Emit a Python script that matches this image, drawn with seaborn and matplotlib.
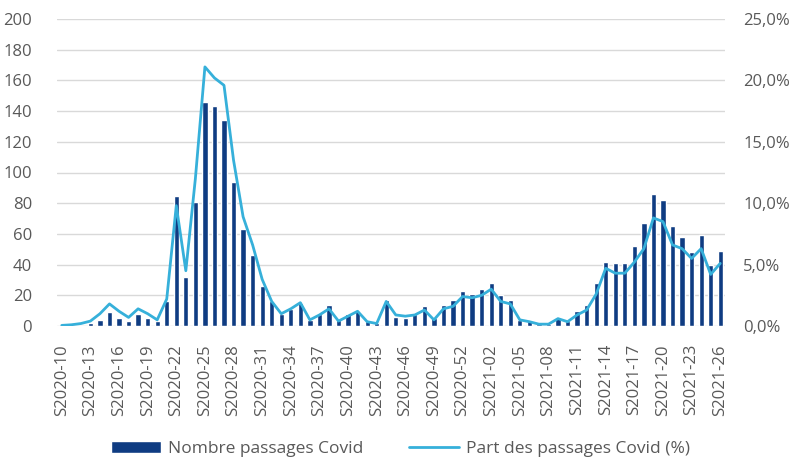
import matplotlib
matplotlib.use("Agg")
import matplotlib.pyplot as plt
import numpy as np
import pandas as pd
import seaborn as sns
from matplotlib.ticker import FuncFormatter

weeks = [f"S2020-{w:02d}" for w in range(10, 54)] + [f"S2021-{w:02d}" for w in range(1, 27)]

nombre = [0, 0, 0, 2, 4, 9, 5, 3, 8, 5,
          3, 16, 85, 32, 81, 146, 143, 134, 94, 63,
          46, 26, 16, 8, 11, 15, 4, 8, 14, 4,
          8, 10, 3, 2, 17, 6, 5, 8, 13, 5,
          14, 17, 23, 21, 24, 28, 20, 17, 4, 3,
          1, 1, 5, 3, 10, 14, 28, 42, 41, 41,
          52, 67, 86, 82, 65, 58, 48, 59, 40, 49]

part = [0.05, 0.1, 0.2, 0.4, 1.0, 1.8, 1.2, 0.7, 1.4, 1.0,
        0.5, 2.2, 9.8, 4.5, 12.0, 21.1, 20.2, 19.6, 13.5, 8.9,
        6.6, 3.8, 2.0, 1.0, 1.4, 1.9, 0.5, 0.9, 1.4, 0.4,
        0.8, 1.2, 0.35, 0.2, 2.0, 0.9, 0.8, 0.9, 1.3, 0.5,
        1.4, 1.6, 2.4, 2.3, 2.5, 3.0, 2.0, 1.8, 0.5, 0.35,
        0.15, 0.15, 0.6, 0.35, 0.9, 1.3, 2.6, 4.7, 4.3, 4.3,
        5.2, 6.3, 8.8, 8.5, 6.6, 6.3, 5.5, 6.3, 4.2, 5.1]

label_bar = "Nombre passages Covid"
label_line = "Part des passages Covid (%)"

sns.set_theme(style="white")
plt.rcParams["font.family"] = ["Open Sans", "DejaVu Sans"]

df = pd.DataFrame({"semaine": weeks, "nombre": nombre, "part": part,
                   "pos": np.arange(len(weeks))})

BAR = "#0f3c82"
LINE = "#36b0da"
TXT = "#595959"
GRID = "#d9d9d9"

fig = plt.figure(figsize=(7.93, 4.63), dpi=100)
ax = fig.add_axes([57 / 793, 1 - 326 / 463, (725 - 57) / 793, (326 - 19) / 463])

sns.barplot(data=df, x="semaine", y="nombre", color=BAR, width=0.55,
            saturation=1, ax=ax, label=label_bar)
ax.set_ylim(0, 200)
ax.set_xlim(-0.5, len(weeks) - 0.5)
ax.set_yticks(np.arange(0, 201, 20))
ax.yaxis.grid(True, color=GRID, linewidth=1)
ax.set_axisbelow(True)
ax.set_xticks(np.arange(0, len(weeks), 3))
ax.set_xticklabels(weeks[::3], rotation=90)
ax.set_xlabel("")
ax.set_ylabel("")
ax.tick_params(axis="both", length=0, colors=TXT, labelsize=12)
ax.tick_params(axis="y", pad=18)
ax.tick_params(axis="x", pad=13)
for s in ax.spines.values():
    s.set_visible(False)

ax2 = ax.twinx()
sns.lineplot(data=df, x="pos", y="part", color=LINE, linewidth=2.0, ax=ax2,
             label=label_line, legend=False)
ax2.set_ylim(0, 25)
ax2.set_yticks(np.arange(0, 26, 5))
ax2.yaxis.set_major_formatter(FuncFormatter(lambda v, p: f"{v:.1f}%".replace(".", ",")))
ax2.set_ylabel("")
ax2.tick_params(axis="y", length=0, colors=TXT, labelsize=12, pad=13)
for s in ax2.spines.values():
    s.set_visible(False)
ax.set_xlim(-0.5, len(weeks) - 0.5)

if ax.get_legend() is not None:
    ax.get_legend().remove()
h1, l1 = ax.get_legend_handles_labels()
h2, l2 = ax2.get_legend_handles_labels()
leg = fig.legend(h1[:1] + h2[:1], [label_bar, label_line], loc="center",
                 bbox_to_anchor=(0.505, 1 - 449 / 463), ncol=2, frameon=False,
                 handlelength=2.9, columnspacing=2.6, fontsize=12.5, handletextpad=0.4)
for t in leg.get_texts():
    t.set_color(TXT)

fig.savefig("out.png", dpi=100)
